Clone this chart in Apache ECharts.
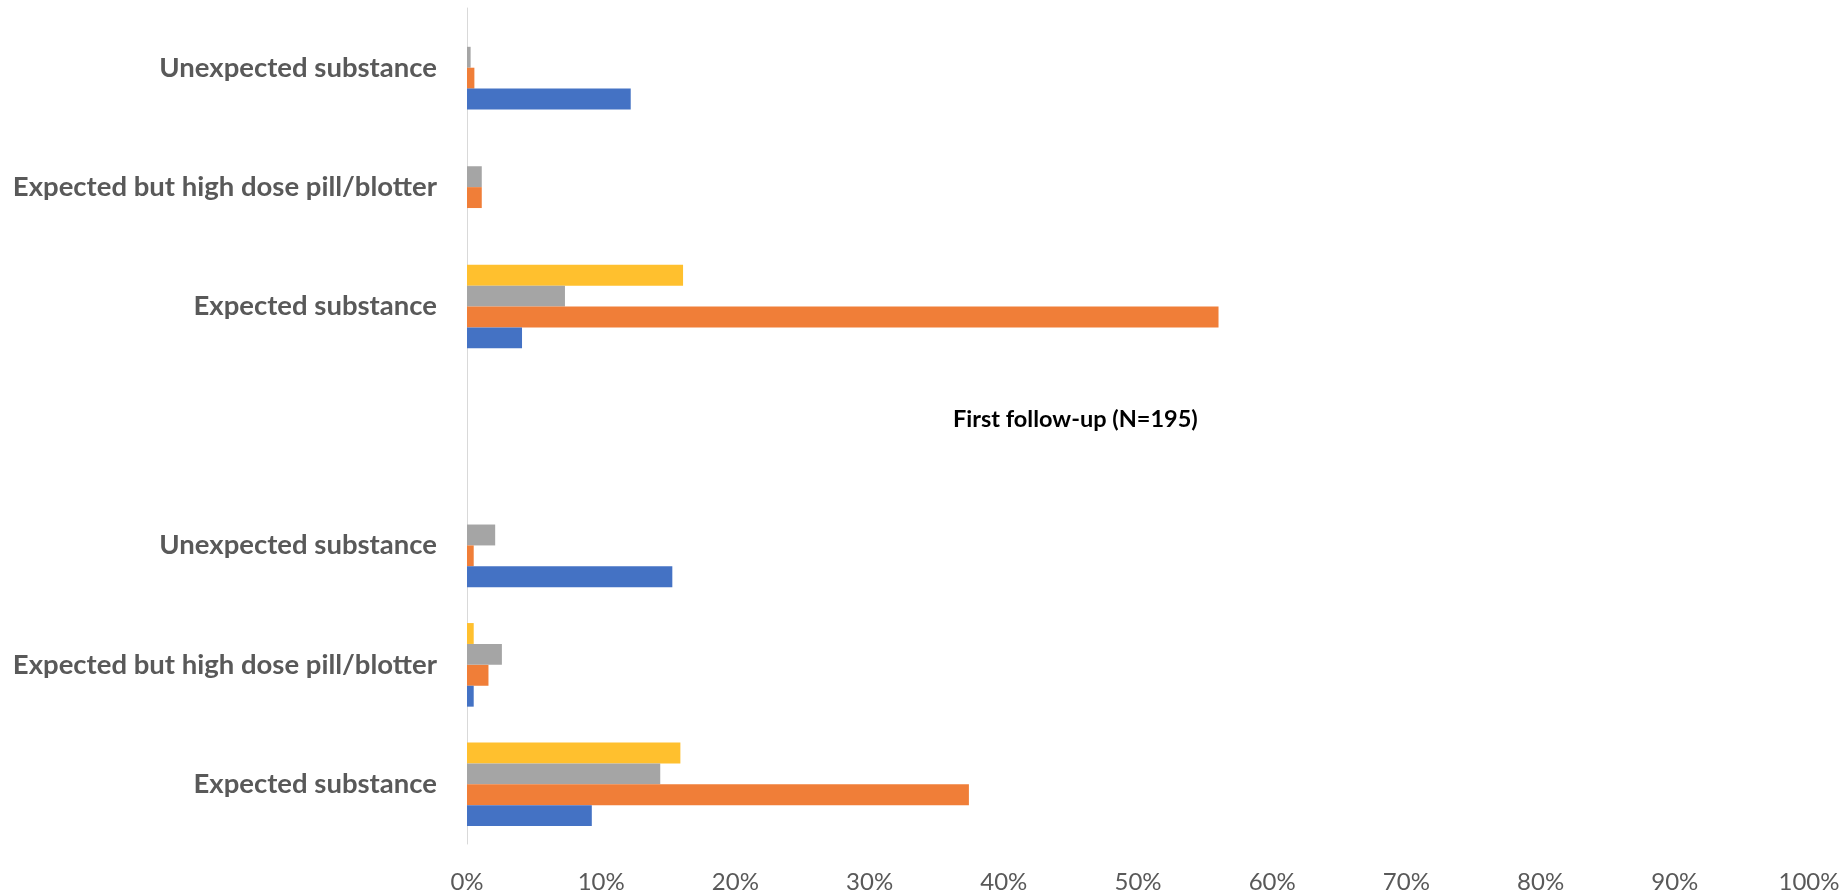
<!DOCTYPE html>
<html>
<head>
<meta charset="utf-8">
<title>Substance test results</title>
<script src="https://cdn.jsdelivr.net/npm/echarts@6/dist/echarts.min.js"></script>
<style>
  html, body { margin: 0; padding: 0; background: #fff; }
  #chart { width: 1841px; height: 895px; }
</style>
</head>
<body>
<div id="chart"></div>
<script>
// categories, bottom to top (the empty one is the gap between the two blocks)
const categories = [
  'Expected substance',
  'Expected but high dose pill/blotter',
  'Unexpected substance',
  '',
  'Expected substance',
  'Expected but high dose pill/blotter',
  'Unexpected substance'
]
// values in %
const blueValues   = [9.3, 0.5, 15.3, null, 4.1, null, 12.2]
const orangeValues = [37.4, 1.6, 0.5, null, 56.0, 1.1, 0.55]
const grayValues   = [14.4, 2.6, 2.1, null, 7.3, 1.1, 0.27]
const yellowValues = [15.9, 0.5, null, null, 16.1, null, null]
const blockLabel = 'First follow-up (N=195)'

const chart = echarts.init(document.getElementById('chart'))

const makeBar = (data, color) => ({
  type: 'bar',
  data: data,
  barGap: 0,
  barCategoryGap: '30%',
  itemStyle: { color: color },
  silent: true
})

const option = {
  animation: false,
  title: {
    text: blockLabel,
    left: 948,
    top: 402,
    textStyle: {
      fontFamily: 'Lato',
      fontWeight: 'bold',
      fontSize: 23.5,
      color: '#000'
    }
  },
  grid: {
    left: 467,
    right: 32,
    top: 8,
    bottom: 51,
    containLabel: false,
    outerBoundsMode: 'none'
  },
  xAxis: {
    type: 'value',
    min: 0,
    max: 100,
    interval: 10,
    axisLine: { show: false },
    axisTick: { show: false },
    splitLine: { show: false },
    axisLabel: {
      formatter: '{value}%',
      margin: 26,
      fontFamily: 'Lato',
      fontSize: 24,
      color: '#595959'
    }
  },
  yAxis: {
    type: 'category',
    data: categories,
    axisLine: { show: true, lineStyle: { color: '#D9D9D9', width: 1 } },
    axisTick: { show: false },
    splitLine: { show: false },
    axisLabel: {
      margin: 30,
      fontFamily: 'Lato',
      fontWeight: 'bold',
      fontSize: 27.5,
      color: '#595959'
    }
  },
  series: [
    makeBar(yellowValues, '#FFC02E'),
    makeBar(grayValues, '#A5A5A5'),
    makeBar(orangeValues, '#F07E38'),
    makeBar(blueValues, '#4472C4')
  ]
}

chart.setOption(option)
</script>
</body>
</html>
